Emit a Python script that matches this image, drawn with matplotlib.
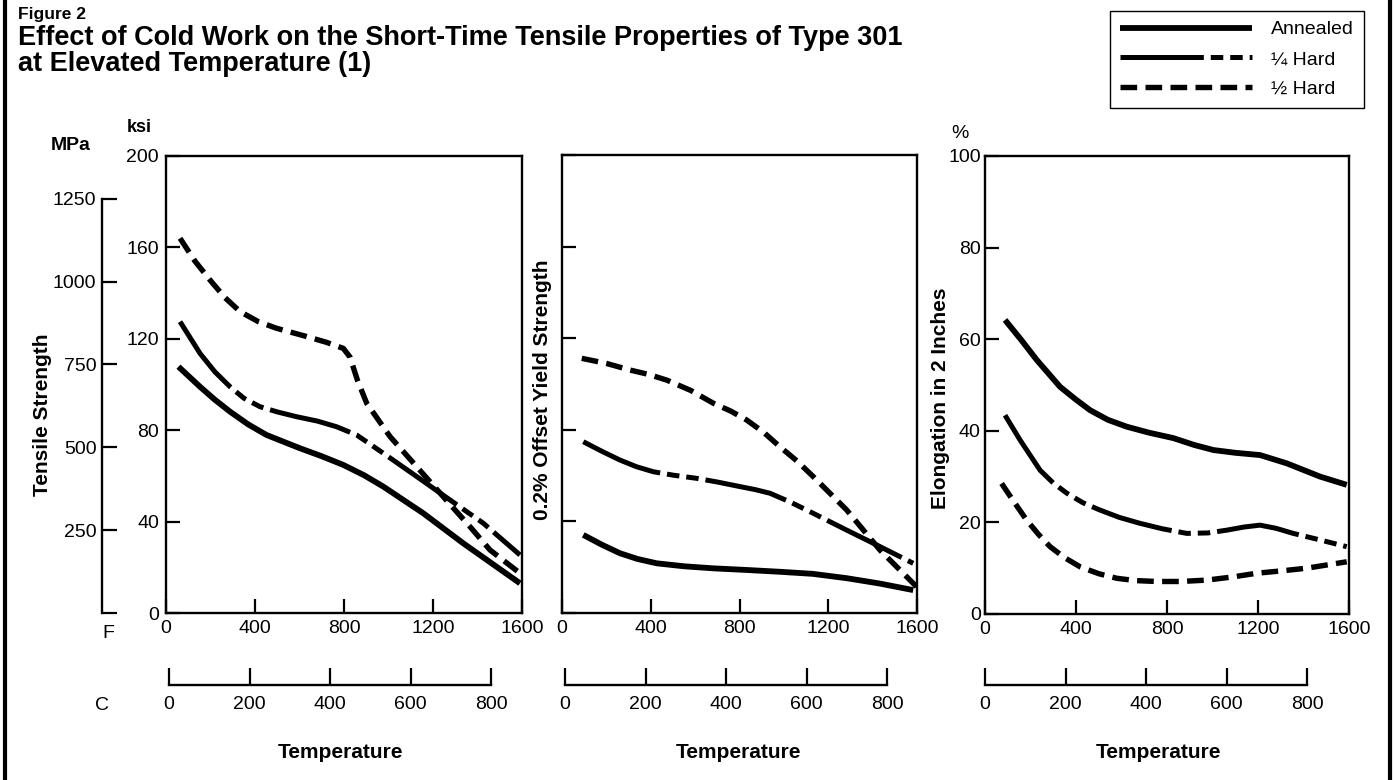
import matplotlib
matplotlib.use("Agg")
import matplotlib.pyplot as plt
from matplotlib.lines import Line2D

plt.rcParams['font.family'] = ['Liberation Sans', 'DejaVu Sans']
plt.rcParams['lines.scale_dashes'] = False

# ---- data (temperature in F) ----
# tensile strength, ksi
ts_half_F = [63, 130, 198, 265, 333, 415, 497, 632, 720, 797, 827, 860, 902, 1007, 1127, 1246, 1366, 1456, 1591]
ts_half = [164, 154, 145.7, 138, 131.9, 127.5, 124.6, 121, 118.5, 115.8, 112, 102, 91.8, 77.2, 64, 50.9, 37.8, 27.6, 17.4]
ts_quarter_F = [63, 153, 220, 288, 350, 422, 500, 587, 680, 767, 857, 977, 1127, 1276, 1426, 1591]
ts_quarter = [127.5, 113.6, 105.5, 99, 94, 90.3, 88, 85.9, 84, 81.5, 77.9, 69.9, 59.7, 49.5, 39.3, 25.4]
ts_ann_F = [56, 153, 220, 288, 370, 452, 602, 700, 797, 890, 977, 1157, 1336, 1591]
ts_ann = [107.8, 99, 93.3, 88.1, 82.5, 77.9, 72.1, 68.6, 64.8, 60.3, 55.3, 43.6, 30.5, 13]

# 0.2% offset yield strength, ksi
ys_half_F = [89, 200, 306, 390, 472, 580, 682, 760, 832, 910, 982, 1060, 1133, 1283, 1433, 1598]
ys_half = [111.2, 109, 106.1, 104.2, 101.7, 97.2, 91.6, 88.2, 84.3, 78.8, 72.6, 66.3, 59.5, 45, 27.5, 11.5]
ys_quarter_F = [96, 180, 261, 335, 411, 500, 607, 700, 802, 870, 937, 1030, 1133, 1283, 1433, 1583]
ys_quarter = [74.8, 70.6, 66.8, 63.9, 61.7, 60.2, 58.8, 57.2, 55.2, 53.9, 52.3, 48.4, 43.5, 36.2, 29, 21.7]
ys_ann_F = [96, 180, 261, 340, 427, 550, 682, 830, 982, 1130, 1283, 1430, 1583]
ys_ann = [34.1, 29.8, 26.1, 23.6, 21.7, 20.4, 19.5, 18.8, 18, 17.1, 15.2, 12.9, 10]

# elongation in 2 inches, %
el_ann_F = [88, 160, 227, 330, 400, 462, 540, 623, 720, 828, 920, 1004, 1100, 1209, 1326, 1473, 1590]
el_ann = [64.2, 59.8, 55.5, 49.6, 46.8, 44.5, 42.4, 40.9, 39.6, 38.4, 36.9, 35.8, 35.2, 34.7, 32.9, 30, 28.2]
el_quarter_F = [88, 154, 242, 300, 359, 430, 505, 590, 681, 780, 887, 980, 1062, 1140, 1209, 1280, 1355, 1470, 1590]
el_quarter = [43.4, 38, 31.4, 28.6, 26.4, 24.3, 22.7, 21.1, 19.8, 18.6, 17.6, 17.7, 18.3, 19, 19.4, 18.7, 17.6, 16.2, 14.7]
el_half_F = [73, 130, 183, 235, 286, 350, 418, 500, 579, 660, 755, 860, 975, 1090, 1194, 1300, 1414, 1590]
el_half = [28.5, 24.3, 20.5, 17.4, 14.7, 12.3, 10.3, 8.8, 7.8, 7.3, 7.1, 7.1, 7.4, 8.1, 8.9, 9.4, 10, 11.4]

f_ticks = [0, 400, 800, 1200, 1600]
c_ticks = [0, 200, 400, 600, 800]
ksi_ticks = [0, 40, 80, 120, 160, 200]
mpa_ticks = [0, 250, 500, 750, 1000, 1250]
pct_ticks = [0, 20, 40, 60, 80, 100]
labels = ['Annealed', '\u00bc Hard', '\u00bd Hard']

# ---- styles ----
W, H = 1394, 780
FS = 14
sty_ann = dict(color='black', lw=4.2, ls='-', solid_capstyle='butt', solid_joinstyle='round')
sty_q = dict(color='black', lw=3.6, ls=(0, (60, 5, 9, 5, 9, 5)), dash_capstyle='butt',
             solid_joinstyle='round', dash_joinstyle='round')
sty_h = dict(color='black', lw=3.9, ls=(0, (12, 6)), dash_capstyle='butt', dash_joinstyle='round')


def rect(x0, x1, ytop, ybot):
    return [x0 / W, 1 - ybot / H, (x1 - x0) / W, (ybot - ytop) / H]


fig = plt.figure(figsize=(W / 100, H / 100), dpi=100)


def panel(r, ylim, yticks, ylabels, ypad):
    ax = fig.add_axes(r)
    ax.set_xlim(0, 1600)
    ax.set_ylim(*ylim)
    for s in ax.spines.values():
        s.set_linewidth(1.7)
    ax.set_xticks(f_ticks)
    ax.set_xticklabels([str(t) for t in f_ticks])
    ax.set_yticks(yticks)
    if ylabels:
        ax.set_yticklabels([str(t) for t in yticks])
    else:
        ax.set_yticklabels([])
    ax.tick_params(direction='in', length=10, width=1.6, labelsize=FS)
    ax.tick_params(axis='x', pad=5)
    ax.tick_params(axis='y', pad=ypad)
    return ax


def c_axis(x0):
    cx = fig.add_axes(rect(x0, x0 + 356, 675, 685))
    cx.set_xlim(0, 884)
    cx.set_yticks([])
    for k in ['top', 'left', 'right']:
        cx.spines[k].set_visible(False)
    cx.spines['bottom'].set_linewidth(1.7)
    cx.spines['bottom'].set_bounds(0, 800)
    cx.set_xticks(c_ticks)
    cx.tick_params(direction='in', length=12, width=1.6, labelsize=FS, pad=8)
    cx.patch.set_visible(False)
    return cx


# left panel: tensile strength
ax1 = panel(rect(166, 522, 156, 613), (0, 200), ksi_ticks, True, 5)
ax1.plot(ts_ann_F, ts_ann, **sty_ann)
ax1.plot(ts_quarter_F, ts_quarter, **sty_q)
ax1.plot(ts_half_F, ts_half, **sty_h)

# MPa scale beside it
axm = fig.add_axes(rect(102, 103, 156, 613))
axm.set_ylim(0, 200 * 6.895)
axm.set_xticks([])
for k in ['top', 'bottom', 'right']:
    axm.spines[k].set_visible(False)
axm.spines['left'].set_linewidth(1.7)
axm.spines['left'].set_bounds(0, 1250)
axm.set_yticks(mpa_ticks)
axm.set_yticklabels([''] + [str(t) for t in mpa_ticks[1:]])
axm.tick_params(direction='in', length=11, width=1.6, labelsize=FS, pad=4)
axm.patch.set_visible(False)

# middle panel: yield strength
ax2 = panel(rect(562, 917, 155, 613), (0, 200), ksi_ticks, False, 5)
ax2.plot(ys_ann_F, ys_ann, **sty_ann)
ax2.plot(ys_quarter_F, ys_quarter, **sty_q)
ax2.plot(ys_half_F, ys_half, **sty_h)

# right panel: elongation
ax3 = panel(rect(985, 1349, 156, 614), (0, 100), pct_ticks, True, 3)
ax3.plot(el_ann_F, el_ann, **sty_ann)
ax3.plot(el_quarter_F, el_quarter, **sty_q)
ax3.plot(el_half_F, el_half, **sty_h)

for x0 in (169, 565, 985):
    c_axis(x0)

# axis titles
bold = dict(fontsize=15, fontweight='bold', rotation=90, ha='center', va='center')
fig.text(43 / W, 1 - 415 / H, 'Tensile Strength', **bold)
fig.text(542 / W, 1 - 390 / H, '0.2% Offset Yield Strength', **bold)
fig.text(941 / W, 1 - 398 / H, 'Elongation in 2 Inches', **bold)
fig.text(71 / W, 1 - 145 / H, 'MPa', fontsize=14, fontweight='bold', ha='center', va='center')
fig.text(139 / W, 1 - 128 / H, 'ksi', fontsize=13, fontweight='bold', ha='center', va='center')
fig.text(960 / W, 1 - 134 / H, '%', fontsize=FS, ha='center', va='center')
fig.text(108 / W, 1 - 633 / H, 'F', fontsize=FS, ha='center', va='center')
fig.text(102 / W, 1 - 705 / H, 'C', fontsize=FS, ha='center', va='center')
for xc in (340, 738, 1158):
    fig.text(xc / W, 1 - 752 / H, 'Temperature', fontsize=15, fontweight='bold', ha='center', va='center')

# title
fig.text(18 / W, 1 - 19 / H, 'Figure 2', fontsize=12.5, fontweight='bold', ha='left', va='baseline')
title_font = dict(fontsize=19.5, fontweight='bold', ha='left', va='baseline')
fig.text(18 / W, 1 - 45 / H, 'Effect of Cold Work on the Short-Time Tensile Properties of Type 301', **title_font)
fig.text(18 / W, 1 - 71 / H, 'at Elevated Temperature (1)', **title_font)

# legend
handles = [Line2D([], [], **sty_ann), Line2D([], [], **sty_q), Line2D([], [], **sty_h)]
fig.legend(handles, labels, loc='upper right', bbox_to_anchor=(1364 / W, 1 - 11 / H),
           handlelength=6.8, handletextpad=1.0, labelspacing=0.63, fontsize=FS,
           frameon=True, fancybox=False, edgecolor='black', framealpha=1, borderpad=0.5,
           borderaxespad=0)

# page frame edges
fig.add_artist(Line2D([5 / W, 5 / W], [0, 1], color='black', lw=3))
fig.add_artist(Line2D([1390 / W, 1390 / W], [0, 1], color='black', lw=3))

fig.savefig('out.png', dpi=100)
